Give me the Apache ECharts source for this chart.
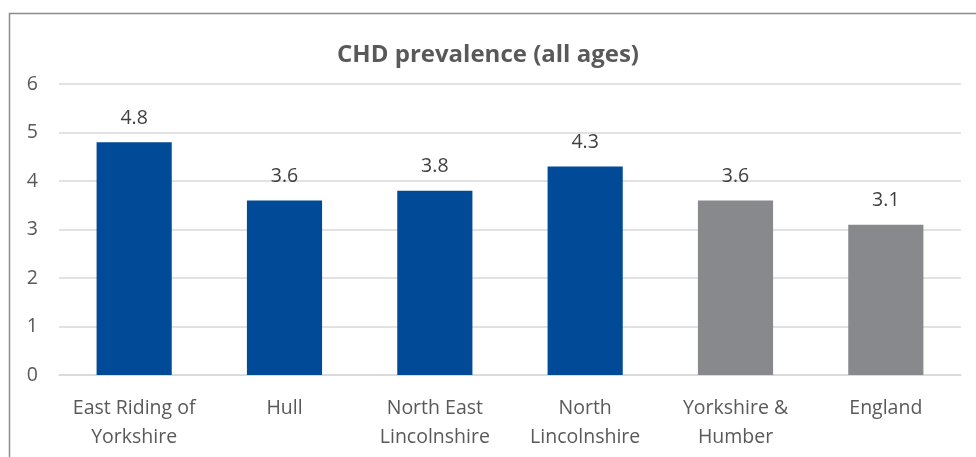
<!DOCTYPE html>
<html>
<head>
<meta charset="utf-8">
<script src="https://cdn.jsdelivr.net/npm/echarts@6/dist/echarts.min.js"></script>
<style>
  html, body { margin: 0; padding: 0; background: #fff; }
  #chart { width: 976px; height: 457px; }
</style>
</head>
<body>
<div id="chart"></div>
<script>
// 数据
const categories = ['East Riding of\nYorkshire', 'Hull', 'North East\nLincolnshire', 'North\nLincolnshire', 'Yorkshire &\nHumber', 'England'];
const prevalence = [4.8, 3.6, 3.8, 4.3, 3.6, 3.1];
const isComparator = [false, false, false, false, true, true];
const yTicks = [0, 1, 2, 3, 4, 5, 6];

const FONT = '"Open Sans", "Liberation Sans", sans-serif';

let chart = echarts.init(document.getElementById('chart'));

chart.setOption({
  animation: false,
  title: {
    text: 'CHD prevalence (all ages)',
    left: 'center',
    top: 38,
    textStyle: { fontFamily: FONT, fontSize: 24, fontWeight: 'bold', color: '#595959' }
  },
  grid: { left: 59, right: 15, top: 84, bottom: 82, containLabel: false },
  xAxis: {
    type: 'category',
    data: categories,
    axisLine: { lineStyle: { color: '#d9d9d9', width: 1.5 } },
    axisTick: { show: false },
    axisLabel: { fontFamily: FONT, fontSize: 19.5, color: '#595959', margin: 19, lineHeight: 29, interval: 0 }
  },
  yAxis: {
    type: 'value',
    min: yTicks[0],
    max: yTicks[yTicks.length - 1],
    interval: 1,
    axisLine: { show: false },
    axisTick: { show: false },
    splitLine: { lineStyle: { color: '#d9d9d9', width: 1.5 } },
    axisLabel: { fontFamily: FONT, fontSize: 19.5, color: '#595959', margin: 21 }
  },
  series: [{
    type: 'bar',
    barWidth: '50%',
    data: prevalence.map((v, i) => ({
      value: v,
      itemStyle: { color: isComparator[i] ? '#87898c' : '#004a97' }
    })),
    label: {
      show: true,
      position: 'top',
      distance: 14,
      fontFamily: FONT,
      fontSize: 19.5,
      color: '#404040',
      formatter: p => p.value.toFixed(1)
    }
  }],
  graphic: [{
    type: 'rect',
    shape: { x: 9.5, y: 13.5, width: 1000, height: 500 },
    style: { fill: null, stroke: '#8c8c8c', lineWidth: 1.5 },
    silent: true
  }]
});
</script>
</body>
</html>
